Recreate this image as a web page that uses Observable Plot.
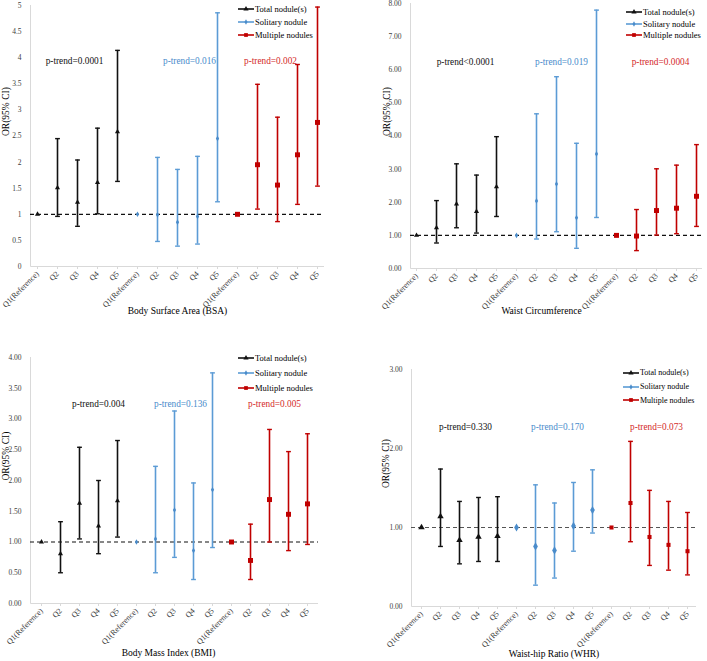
<!DOCTYPE html>
<html><head><meta charset="utf-8">
<script src="https://cdn.jsdelivr.net/npm/d3@7"></script>
<script src="https://cdn.jsdelivr.net/npm/@observablehq/plot@0.6"></script>
<style>
body{margin:0;background:#fff;}
#root{position:relative;width:707px;height:661px;overflow:hidden;background:#fff;font-family:"Liberation Serif","Times New Roman",serif;}
.panel{position:absolute;}
.panel svg{overflow:visible;}
.legend{position:absolute;color:#000;font-family:"Liberation Serif","Times New Roman",serif;}
.legend .row{display:flex;align-items:center;white-space:nowrap;}
.legend svg{margin-right:1px;}
</style></head><body><div id="root"></div>
<script>
// ---------- data ----------
const quintiles = ["Q1(Reference)", "Q2", "Q3", "Q4", "Q5"];
const groups = ["Total nodule(s)", "Solitary nodule", "Multiple nodules"];

// Body Surface Area (BSA)
const bsaOR   = [1, 1.51, 1.23, 1.61, 2.58,  1, 0.99, 0.85, 0.96, 2.45,  1, 1.95, 1.56, 2.14, 2.76];
const bsaLow  = [null, 0.96, 0.77, 1.01, 1.63,  null, 0.48, 0.39, 0.43, 1.24,  null, 1.10, 0.86, 1.19, 1.54];
const bsaHigh = [null, 2.45, 2.04, 2.65, 4.14,  null, 2.09, 1.86, 2.11, 4.86,  null, 3.49, 2.86, 3.87, 4.97];
const bsaTrend = ["p-trend=0.0001", "p-trend=0.016", "p-trend=0.002"];

// Waist Circumference
const wcOR   = [1, 1.23, 1.95, 1.72, 2.47,  1, 2.04, 2.55, 1.53, 3.46,  1, 0.98, 1.75, 1.82, 2.18];
const wcLow  = [null, 0.77, 1.23, 1.07, 1.57,  null, 0.89, 1.11, 0.61, 1.54,  null, 0.54, 1.01, 1.05, 1.27];
const wcHigh = [null, 2.05, 3.16, 2.82, 3.98,  null, 4.67, 5.79, 3.78, 7.80,  null, 1.78, 3.01, 3.12, 3.74];
const wcTrend = ["p-trend<0.0001", "p-trend=0.019", "p-trend=0.0004"];

// Body Mass Index (BMI)
const bmiOR   = [1, 0.81, 1.63, 1.26, 1.67,  1, 1.05, 1.52, 0.86, 1.85,  1, 0.70, 1.69, 1.45, 1.62];
const bmiLow  = [null, 0.50, 1.05, 0.81, 1.08,  null, 0.50, 0.75, 0.39, 0.91,  null, 0.39, 1.00, 0.86, 0.96];
const bmiHigh = [null, 1.33, 2.54, 2.00, 2.65,  null, 2.23, 3.13, 1.96, 3.75,  null, 1.29, 2.83, 2.47, 2.76];
const bmiTrend = ["p-trend=0.004", "p-trend=0.136", "p-trend=0.005"];

// Waist-hip Ratio (WHR)
const whrOR   = [1, 1.14, 0.84, 0.88, 0.89,  1, 0.76, 0.71, 1.02, 1.22,  1, 1.31, 0.88, 0.78, 0.70];
const whrLow  = [null, 0.76, 0.54, 0.57, 0.57,  null, 0.27, 0.36, 0.70, 0.93,  null, 0.82, 0.52, 0.46, 0.40];
const whrHigh = [null, 1.74, 1.33, 1.38, 1.39,  null, 1.54, 1.31, 1.57, 1.73,  null, 2.09, 1.47, 1.33, 1.19];
const whrTrend = ["p-trend=0.330", "p-trend=0.170", "p-trend=0.073"];

// ---------- styles ----------
const barColors = ["#111111", "#5b9bd5", "#c00000"];
const markColors = ["#111111", "#4a8ccb", "#c00000"];
const trendColors = ["#111111", "#4a8ccb", "#d42a2a"];
const symbols = ["triangle", "diamond", "square"];
const serif = "Liberation Serif, Times New Roman, serif";
const cap = {draw(ctx) { ctx.moveTo(-2.4, 0); ctx.lineTo(2.4, 0); }};

function makePanel(cfg, OR, lo, hi, trend) {
  const rows = [];
  groups.forEach((g, gi) => quintiles.forEach((q, qi) => {
    const i = gi * 5 + qi;
    rows.push({key: g + "|" + q, gi, or: OR[i], lo: lo[i], hi: hi[i]});
  }));
  const keys = rows.map(d => d.key);
  const axisLines = (index, scales, values, dim) => {
    const g = d3.create("svg:g").attr("stroke", "#d9d9d9").attr("stroke-width", 1);
    const x0 = dim.marginLeft + 0.5, yb = dim.height - dim.marginBottom + 0.5;
    g.append("line").attr("x1", x0).attr("x2", x0).attr("y1", dim.marginTop).attr("y2", yb);
    g.append("line").attr("x1", x0).attr("x2", dim.width - dim.marginRight).attr("y1", yb).attr("y2", yb);
    return g.node();
  };
  const marks = [
    axisLines,
    Plot.axisY({ticks: cfg.yTicks, tickFormat: cfg.yFormat, tickSize: 0, tickPadding: 9,
      fontSize: 7.5, fill: "#404040", label: null, fontFamily: serif}),
    Plot.axisX({tickRotate: -45, tickSize: 3, stroke: "#d9d9d9", tickPadding: 3,
      tickFormat: k => k.split("|")[1], fontSize: 8, fill: "#404040", label: null, fontFamily: serif}),
    Plot.ruleY([1], {stroke: cfg.dashColor, strokeDasharray: "4,3", strokeWidth: 1.2})
  ];
  groups.forEach((g, gi) => {
    const gr = rows.filter(d => d.gi === gi);
    const bars = gr.filter(d => d.lo != null);
    marks.push(
      Plot.ruleX(bars, {x: "key", y1: "lo", y2: "hi", stroke: barColors[gi], strokeWidth: 1.6}),
      Plot.dot(bars, {x: "key", y: "hi", symbol: cap, stroke: barColors[gi], strokeWidth: 1.4, fill: "none", r: 2}),
      Plot.dot(bars, {x: "key", y: "lo", symbol: cap, stroke: barColors[gi], strokeWidth: 1.4, fill: "none", r: 2}),
      Plot.dot(gr, {x: "key", y: "or", symbol: symbols[gi], fill: markColors[gi], stroke: "none", r: cfg.markerR[gi]}),
      Plot.text([{key: g + "|Q3", y: cfg.trendY, label: trend[gi]}],
        {x: "key", y: "y", text: "label", fill: trendColors[gi], dx: cfg.trendDx[gi], fontSize: 9.3, fontFamily: serif})
    );
  });
  marks.push(
    Plot.text([cfg.title], {frameAnchor: "bottom", dy: cfg.titleDy, dx: cfg.titleDx, fontSize: 9.5, fill: "#000", fontFamily: serif}),
    Plot.text(["OR(95% CI)"], {frameAnchor: "left", rotate: -90, dx: cfg.ylabDx, fontSize: 9.5, fill: "#000", fontFamily: serif})
  );
  const svg = Plot.plot({
    width: cfg.width, height: cfg.height,
    marginTop: cfg.mt, marginBottom: cfg.mb, marginLeft: cfg.ml, marginRight: cfg.mr,
    style: {fontFamily: serif, background: "transparent", overflow: "visible"},
    x: {type: "point", domain: keys, padding: 0.25},
    y: {domain: cfg.yDomain},
    marks
  });
  const div = document.createElement("div");
  div.className = "panel";
  div.style.left = cfg.left + "px";
  div.style.top = cfg.top + "px";
  div.appendChild(svg);
  document.getElementById("root").appendChild(div);

  // legend
  const lg = document.createElement("div");
  lg.className = "legend";
  lg.style.left = cfg.legend[0] + "px";
  lg.style.top = cfg.legend[1] + "px";
  lg.style.fontSize = cfg.legendFont + "px";
  groups.forEach((g, gi) => {
    const row = document.createElement("div");
    row.className = "row";
    row.style.height = cfg.legendRow + "px";
    const s = d3.create("svg").attr("width", 16).attr("height", 8);
    s.append("line").attr("x1", 0).attr("x2", 16).attr("y1", 4).attr("y2", 4)
      .attr("stroke", barColors[gi]).attr("stroke-width", 1.6);
    const sym = [d3.symbolTriangle, d3.symbolDiamond, d3.symbolSquare][gi];
    s.append("path").attr("d", d3.symbol(sym, [12, 8, 14][gi])()).attr("transform", "translate(8,4)")
      .attr("fill", markColors[gi]);
    row.appendChild(s.node());
    const t = document.createElement("span");
    t.textContent = g;
    row.appendChild(t);
    lg.appendChild(row);
  });
  document.getElementById("root").appendChild(lg);
}

const fmt2 = d3.format(".2f");

makePanel({left: 0, top: 0, width: 354, height: 330, mt: 5, mb: 64, ml: 30, mr: 30,
  yDomain: [0, 5], yTicks: d3.range(0, 5.01, 0.5), yFormat: d => String(d),
  title: "Body Surface Area (BSA)", titleDy: 47, titleDx: 0, ylabDx: -25,
  trendY: 3.93, trendDx: [-3, 12, -7], markerR: [1.9, 1.7, 2.8], dashColor: "#111",
  legend: [238, 2.5], legendRow: 13, legendFont: 8.5}, bsaOR, bsaLow, bsaHigh, bsaTrend);

makePanel({left: 354, top: 0, width: 353, height: 330, mt: 3, mb: 62, ml: 56, mr: 5,
  yDomain: [0, 8], yTicks: d3.range(0, 9, 1), yFormat: fmt2,
  title: "Waist Circumference", titleDy: 45, titleDx: -15, ylabDx: -24,
  trendY: 6.24, trendDx: [9, 5, 4], markerR: [1.9, 1.7, 2.8], dashColor: "#111",
  legend: [626, 6], legendRow: 11.7, legendFont: 8.5}, wcOR, wcLow, wcHigh, wcTrend);

makePanel({left: 0, top: 330, width: 354, height: 331, mt: 27, mb: 58, ml: 30, mr: 36,
  yDomain: [0, 4], yTicks: d3.range(0, 4.01, 0.5), yFormat: fmt2,
  title: "Body Mass Index (BMI)", titleDy: 52, titleDx: -6, ylabDx: -25,
  trendY: 3.25, trendDx: [19, 6, 5], markerR: [1.9, 1.7, 2.8], dashColor: "#111",
  legend: [238, 350], legendRow: 15, legendFont: 8.5}, bmiOR, bmiLow, bmiHigh, bmiTrend);

makePanel({left: 354, top: 330, width: 353, height: 331, mt: 39, mb: 55, ml: 57, mr: 11,
  yDomain: [0, 3], yTicks: [0, 1, 2, 3], yFormat: fmt2,
  title: "Waist-hip Ratio (WHR)", titleDy: 50, titleDx: 0, ylabDx: -26,
  trendY: 2.27, trendDx: [6, 3, 7], markerR: [2.4, 2.5, 2.3], dashColor: "#555",
  legend: [623, 366], legendRow: 13.7, legendFont: 8}, whrOR, whrLow, whrHigh, whrTrend);
</script>
</body></html>
